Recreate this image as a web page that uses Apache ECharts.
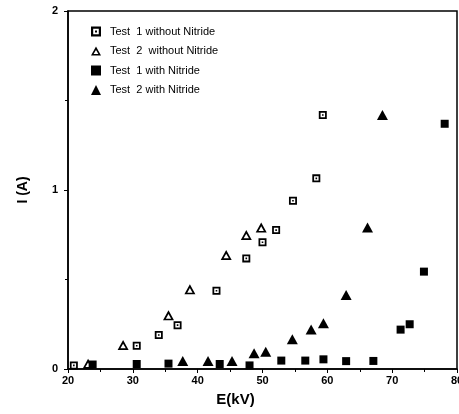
<!DOCTYPE html>
<html><head><meta charset="utf-8">
<script src="https://cdn.jsdelivr.net/npm/echarts@6/dist/echarts.min.js"></script>
<style>html,body{margin:0;padding:0;background:#fff}#c{width:459px;height:414px}</style>
</head><body><div id="c"></div>
<script>
const xTicks = [20, 30, 40, 50, 60, 70, 80];
const yTicks = [0, 1, 2];
const seriesNames = ['Test  1 without Nitride', 'Test  2  without Nitride', 'Test  1 with Nitride', 'Test  2 with Nitride'];
const t1NoNitride = [[20.9,0.02],[30.6,0.13],[34.0,0.19],[36.9,0.245],[42.9,0.437],[47.5,0.618],[50.0,0.708],[52.1,0.776],[54.7,0.94],[58.3,1.065],[59.3,1.419]];
const t2NoNitride = [[23.1,0.03],[28.5,0.134],[35.5,0.30],[38.8,0.445],[44.4,0.637],[47.5,0.749],[49.8,0.79]];
const t1Nitride = [[23.8,0.025],[30.6,0.028],[35.5,0.03],[43.4,0.028],[48.0,0.02],[52.9,0.047],[56.6,0.047],[59.4,0.054],[62.9,0.044],[67.1,0.045],[71.3,0.22],[72.7,0.25],[74.9,0.544],[78.1,1.37]];
const t2Nitride = [[37.7,0.045],[41.6,0.045],[45.3,0.045],[48.7,0.088],[50.5,0.097],[54.6,0.166],[57.5,0.22],[59.4,0.255],[62.9,0.413],[66.2,0.79],[68.5,1.419]];

const dotSquare = 'path://M0,0L10,0L10,10L0,10Z M2.2,2.2L2.2,7.8L7.8,7.8L7.8,2.2Z M4,4L6,4L6,6L4,6Z';
const hollowTri = 'path://M5,0L10,9L0,9Z M5,3.4L2.6,7.5L7.4,7.5Z';

const chart = echarts.init(document.getElementById('c'));
const font = 'Liberation Sans, Arial, sans-serif';
const itemStyle = { color: '#000', opacity: 1 };
chart.setOption({
  animation: false,
  backgroundColor: '#fff',
  grid: { left: 68, right: 2, top: 11, bottom: 45, show: true, borderColor: '#000', borderWidth: 1.5, containLabel: false, outerBoundsMode: 'none' },
  legend: {
    orient: 'vertical', left: 86, top: 21, itemGap: 8.5, itemWidth: 10, itemHeight: 10,
    textStyle: { fontFamily: font, fontSize: 11, color: '#000', padding: [0, 0, 0, 4] },
    data: [
      { name: seriesNames[0], icon: dotSquare, itemStyle: itemStyle },
      { name: seriesNames[1], icon: hollowTri, itemStyle: itemStyle },
      { name: seriesNames[2], icon: 'rect', itemStyle: itemStyle },
      { name: seriesNames[3], icon: 'triangle', itemStyle: itemStyle }
    ]
  },
  xAxis: {
    type: 'value', min: xTicks[0], max: xTicks[xTicks.length-1], interval: 10,
    name: 'E(kV)', nameLocation: 'middle', nameGap: 23,
    nameTextStyle: { fontFamily: font, fontSize: 15, fontWeight: 'bold', color: '#000', padding: [0, 54, 0, 0] },
    axisLine: { lineStyle: { color: '#000', width: 1.5 } },
    axisTick: { show: true, length: 4, lineStyle: { color: '#000' } },
    minorTick: { show: true, splitNumber: 2, length: 3, lineStyle: { color: '#000' } },
    splitLine: { show: false },
    axisLabel: { fontFamily: font, fontSize: 11, fontWeight: 'bold', color: '#000', margin: 6, hideOverlap: false }
  },
  yAxis: {
    type: 'value', min: yTicks[0], max: yTicks[yTicks.length-1], interval: 1,
    name: 'I (A)', nameLocation: 'middle', nameGap: 38, nameRotate: 90,
    nameTextStyle: { fontFamily: font, fontSize: 14, fontWeight: 'bold', color: '#000' },
    axisLine: { show: true, lineStyle: { color: '#000', width: 1.5 } },
    axisTick: { show: true, length: 4, lineStyle: { color: '#000' } },
    minorTick: { show: true, splitNumber: 2, length: 3, lineStyle: { color: '#000' } },
    splitLine: { show: false },
    axisLabel: { fontFamily: font, fontSize: 11, fontWeight: 'bold', color: '#000', margin: 10 }
  },
  series: [
    { name: seriesNames[0], type: 'scatter', data: t1NoNitride, symbol: dotSquare, symbolSize: 8, itemStyle: itemStyle },
    { name: seriesNames[1], type: 'scatter', data: t2NoNitride, symbol: hollowTri, symbolSize: [11,10], itemStyle: itemStyle },
    { name: seriesNames[2], type: 'scatter', data: t1Nitride, symbol: 'rect', symbolSize: 8, itemStyle: itemStyle },
    { name: seriesNames[3], type: 'scatter', data: t2Nitride, symbol: 'triangle', symbolSize: [11,10], itemStyle: itemStyle }
  ]
});
</script></body></html>
